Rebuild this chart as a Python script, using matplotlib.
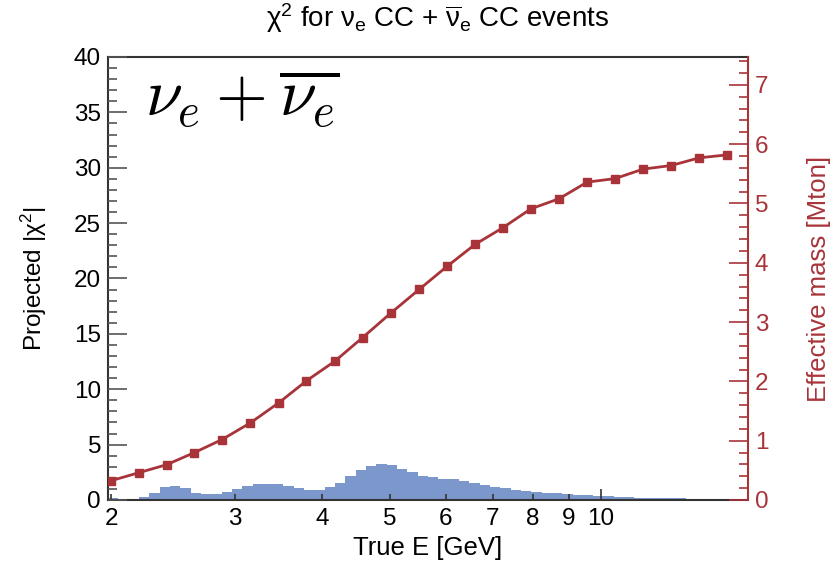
"""Chi2 projection vs true energy with effective mass overlay."""
import numpy as np
import matplotlib
matplotlib.use("Agg")
import matplotlib.pyplot as plt  # noqa: E402
from matplotlib.ticker import FixedLocator, FixedFormatter, MultipleLocator  # noqa: E402

plt.rcParams["font.family"] = ["Liberation Sans", "DejaVu Sans"]
plt.rcParams["mathtext.fontset"] = "custom"
plt.rcParams["mathtext.rm"] = "Liberation Sans"
plt.rcParams["mathtext.it"] = "Liberation Sans:italic"

RED = "#a8343a"
BLUE = "#7b97cb"

# projected |chi2| histogram (log-spaced bins between x limits)
e_min, e_max = 1.98, 16.2
chi2 = [0.20, 0.08, 0.02, 0.30, 0.66, 1.15, 1.26, 1.05, 0.66, 0.50,
        0.50, 0.75, 0.96, 1.29, 1.47, 1.48, 1.47, 1.26, 1.05, 0.93,
        0.93, 1.15, 1.56, 2.14, 2.71, 3.10, 3.25, 3.12, 2.80, 2.50,
        2.20, 2.07, 1.90, 1.88, 1.71, 1.58, 1.35, 1.18, 1.05, 0.92,
        0.81, 0.75, 0.66, 0.63, 0.54, 0.48, 0.45, 0.39, 0.33, 0.27,
        0.27, 0.20, 0.20, 0.15, 0.15, 0.15, 0.13, 0.10, 0.10, 0.08,
        0.05, 0.04]

# effective mass points
mass_e = [2.00, 2.19, 2.40, 2.63, 2.88, 3.16, 3.47, 3.80, 4.17, 4.57,
          5.01, 5.50, 6.03, 6.61, 7.24, 7.94, 8.71, 9.55, 10.47, 11.48,
          12.59, 13.80, 15.14]
mass = [0.325, 0.46, 0.595, 0.80, 1.02, 1.30, 1.64, 2.01, 2.34, 2.74,
        3.15, 3.55, 3.94, 4.31, 4.59, 4.91, 5.08, 5.36, 5.42, 5.58,
        5.64, 5.77, 5.82]

edges = np.geomspace(e_min, e_max, len(chi2) + 1)

fig = plt.figure(figsize=(8.33, 5.64), dpi=100)
ax = fig.add_axes([108 / 833, 64 / 564, 640 / 833, 443 / 564])
ax.stairs(chi2, edges, fill=True, color=BLUE, lw=0, zorder=1)
ax.set_xscale("log")
ax.set_xlim(e_min, e_max)
ax.set_ylim(0, 40)
ax.set_axisbelow(False)

ax.xaxis.set_major_locator(FixedLocator([10]))
ax.xaxis.set_major_formatter(FixedFormatter(["10"]))
ax.xaxis.set_minor_locator(FixedLocator([2, 3, 4, 5, 6, 7, 8, 9]))
ax.xaxis.set_minor_formatter(FixedFormatter(["2", "3", "4", "5", "6", "7", "8", "9"]))
ax.tick_params(axis="x", which="major", direction="in", length=8, width=1.2,
               labelsize=17.5, pad=6, color="#333333")
ax.tick_params(axis="x", which="minor", direction="in", length=4, width=1.2,
               labelsize=17.5, pad=6, color="#333333")
ax.yaxis.set_major_locator(MultipleLocator(5))
ax.yaxis.set_minor_locator(MultipleLocator(1))
ax.tick_params(axis="y", which="major", direction="in", length=14, width=1.2,
               labelsize=17.5, pad=5, color="#555555")
ax.tick_params(axis="y", which="minor", direction="in", length=6.5, width=1.2,
               color="#555555")
for side in ("left", "bottom", "top"):
    ax.spines[side].set_linewidth(1.5)
    ax.spines[side].set_color("#333333")
ax.spines["right"].set_visible(False)

ax.set_xlabel("True E [GeV]", fontsize=18.5, labelpad=4)
ax.set_ylabel(r"Projected |$\mathrm{\chi}^2$|", fontsize=17.5, labelpad=18)
fig.text(438 / 833, 1 - 18 / 564,
         r"$\mathrm{\chi}^2$ for $\mathrm{\nu}_\mathrm{e}$ CC + "
         r"$\overline{\mathrm{\nu}}_\mathrm{e}$ CC events",
         ha="center", va="center", fontsize=20)
ax.text(0.058, 0.975, r"$\nu_e + \overline{\nu_e}$", transform=ax.transAxes,
        ha="left", va="top", fontsize=48, math_fontfamily="cm")

ax2 = ax.twinx()
ax2.plot(mass_e, mass, color=RED, lw=2.0, marker="s", ms=5.5, zorder=3)
ax2.set_ylim(0, 7.47)
ax2.set_xlim(e_min, e_max)
ax2.yaxis.set_major_locator(MultipleLocator(1))
ax2.yaxis.set_minor_locator(MultipleLocator(0.2))
ax2.tick_params(axis="y", which="major", direction="in", length=14, width=1.2,
                labelsize=17.5, pad=5, colors=RED)
ax2.tick_params(axis="y", which="minor", direction="in", length=6.5, width=1.2,
                color=RED)
for side in ("left", "bottom", "top"):
    ax2.spines[side].set_visible(False)
ax2.spines["right"].set_color(RED)
ax2.spines["right"].set_linewidth(1.5)
ax2.set_ylabel("Effective mass [Mton]", fontsize=18.5, color=RED, labelpad=28)

fig.savefig("out.png", dpi=100)
plt.close(fig)
